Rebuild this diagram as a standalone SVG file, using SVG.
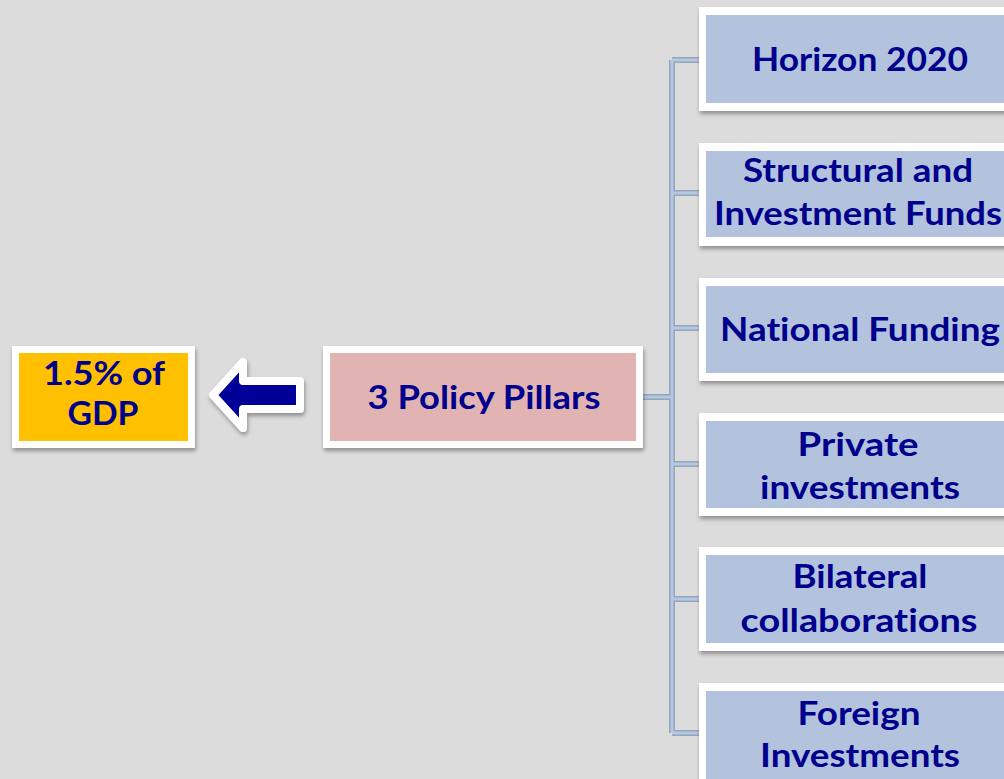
<svg xmlns="http://www.w3.org/2000/svg" width="1004" height="779" viewBox="0 0 1004 779">
<defs>
<filter id="sh" x="-10%" y="-10%" width="130%" height="140%">
<feDropShadow dx="1" dy="3" stdDeviation="2" flood-color="#000" flood-opacity="0.35"/>
</filter>
</defs>
<style>
.frame{fill:#ffffff;filter:url(#sh)}
.t{font-family:Lato,"Open Sans",sans-serif;font-weight:bold;font-size:33px;fill:#00008C;text-anchor:middle;font-variant-ligatures:none;font-feature-settings:"liga" 0}
.blue{fill:#B3C3DD}
.conn-o{stroke:#94A6BF;stroke-width:6;fill:none}
.conn-i{stroke:#B6C7E0;stroke-width:3;fill:none}
</style>
<rect width="1004" height="779" fill="#DCDCDC"/>
<g id="connectors">
<path class="conn-o" d="M643 397H672M672 60V733M672 60H700M672 193H700M672 328H700M672 464H700M672 599H700M672 733H700"/>
<path class="conn-i" d="M643 397H672M672 60V733M672 60H700M672 193H700M672 328H700M672 464H700M672 599H700M672 733H700"/>
</g>
<g id="gdp">
<rect class="frame" x="12" y="346" width="183" height="102"/>
<rect x="19" y="353" width="169" height="88" fill="#FFC000"/>
<text class="t" x="104" y="385" textLength="122" lengthAdjust="spacingAndGlyphs">1.5% of</text>
<text class="t" x="103" y="425" textLength="71" lengthAdjust="spacingAndGlyphs">GDP</text>
</g>
<g id="arrow">
<polygon points="213,395 243,362 243,381 300,381 300,409 243,409 243,428" fill="#000099" stroke="#ffffff" stroke-width="8" stroke-linejoin="round" filter="url(#sh)"/>
</g>
<g id="pillars">
<rect class="frame" x="323" y="346" width="320" height="102"/>
<rect x="330" y="353" width="306" height="88" fill="#E1B3B3"/>
<text class="t" x="484" y="409" textLength="233" lengthAdjust="spacingAndGlyphs">3 Policy Pillars</text>
</g>
<g id="horizon">
<rect class="frame" x="699" y="7" width="320" height="104"/>
<rect class="blue" x="706" y="15" width="310" height="88"/>
<text class="t" x="860" y="71" textLength="216" lengthAdjust="spacingAndGlyphs">Horizon 2020</text>
</g>
<g id="structural">
<rect class="frame" x="699" y="143" width="320" height="103"/>
<rect class="blue" x="706" y="151" width="310" height="86"/>
<text class="t" x="858" y="182" textLength="230" lengthAdjust="spacingAndGlyphs">Structural and</text>
<text class="t" x="858" y="225" textLength="288" lengthAdjust="spacingAndGlyphs">Investment Funds</text>
</g>
<g id="national">
<rect class="frame" x="699" y="278" width="320" height="103"/>
<rect class="blue" x="706" y="286" width="310" height="87"/>
<text class="t" x="860" y="341" textLength="280" lengthAdjust="spacingAndGlyphs">National Funding</text>
</g>
<g id="private">
<rect class="frame" x="699" y="413" width="320" height="103"/>
<rect class="blue" x="706" y="421" width="310" height="87"/>
<text class="t" x="858" y="456" textLength="121" lengthAdjust="spacingAndGlyphs">Private</text>
<text class="t" x="860" y="499" textLength="200" lengthAdjust="spacingAndGlyphs">investments</text>
</g>
<g id="bilateral">
<rect class="frame" x="699" y="547" width="320" height="104"/>
<rect class="blue" x="706" y="555" width="310" height="88"/>
<text class="t" x="860" y="588" textLength="135" lengthAdjust="spacingAndGlyphs">Bilateral</text>
<text class="t" x="859" y="632" textLength="237" lengthAdjust="spacingAndGlyphs">collaborations</text>
</g>
<g id="foreign">
<rect class="frame" x="699" y="683" width="320" height="104"/>
<rect class="blue" x="706" y="691" width="310" height="88"/>
<text class="t" x="859" y="725" textLength="123" lengthAdjust="spacingAndGlyphs">Foreign</text>
<text class="t" x="860" y="767" textLength="200" lengthAdjust="spacingAndGlyphs">Investments</text>
</g>
</svg>
